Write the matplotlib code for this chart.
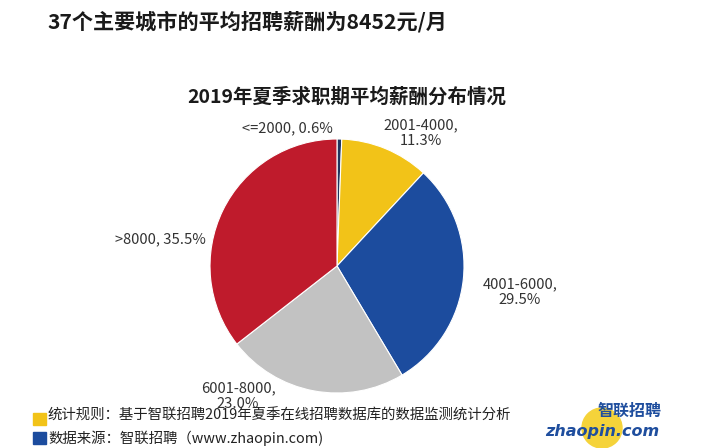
import matplotlib
matplotlib.use('Agg')
import matplotlib.pyplot as plt
from matplotlib.patches import Circle, Rectangle

plt.rcParams['font.family'] = ['Noto Sans CJK SC', 'DejaVu Sans']

# data
categories = ['<=2000', '2001-4000', '4001-6000', '6001-8000', '>8000']
shares = [0.6, 11.3, 29.5, 23.0, 35.5]
colors = ['#1f3560', '#f2c318', '#1c4c9e', '#c2c2c2', '#bf1b2c']

headline = '37个主要城市的平均招聘薪酬为8452元/月'
chart_title = '2019年夏季求职期平均薪酬分布情况'
note_rule = '统计规则：基于智联招聘2019年夏季在线招聘数据库的数据监测统计分析'
note_source = '数据来源：智联招聘（www.zhaopin.com)'

W, H = 711, 448
fig = plt.figure(figsize=(W / 100, H / 100), dpi=100)
ax = fig.add_axes([0, 0, 1, 1])

# pie in pixel-like coordinates (y up)
cx, cy, r = 337, H - 266, 127
ax.pie(shares, colors=colors, startangle=90, counterclock=False,
       center=(cx, cy), radius=r,
       wedgeprops=dict(edgecolor='white', linewidth=0.8))
ax.set_xlim(0, W)
ax.set_ylim(0, H)
ax.set_aspect('auto')
ax.axis('off')

# slice labels (label positions in pixel coords from top)
label_pos = [(287, 128), (421, 133), (520, 292), (238, 396), (160, 239)]
for cat, val, (lx, ly) in zip(categories, shares, label_pos):
    if cat in ('<=2000', '>8000'):
        txt = f'{cat}, {val:.1f}%'
    else:
        txt = f'{cat},\n{val:.1f}%'
    ax.text(lx, H - ly, txt, ha='center', va='center', fontsize=10.6,
            color='#333333', linespacing=1.15)

# titles
ax.text(47, H - 22, headline, ha='left', va='center', fontsize=15.2,
        fontweight='bold', color='#1a1a1a')
ax.text(347, H - 97, chart_title, ha='center', va='center', fontsize=14,
        fontweight='bold', color='#1a1a1a')

# footnotes
ax.add_patch(Rectangle((33, H - 425), 13, 12, color='#f2c318'))
ax.add_patch(Rectangle((33, H - 444), 13, 12, color='#1c4c9e'))
ax.text(48, H - 416, note_rule, ha='left', va='center', fontsize=10.4,
        color='#222222')
ax.text(48, H - 438, note_source, ha='left', va='center', fontsize=10.4,
        color='#222222')

# logo
ax.add_patch(Circle((602, H - 428), 20, color='#f5d33a', zorder=3))
ax.text(630, H - 411, '智联招聘', ha='center', va='center', fontsize=11.5,
        fontweight='bold', style='italic', color='#1f4e9e', zorder=4)
ax.text(602, H - 431, 'zhaopin.com', ha='center', va='center', fontsize=11.5,
        fontweight='bold', style='italic', color='#1f4e9e', zorder=4,
        family='DejaVu Sans')

fig.savefig('out.png', dpi=100)
